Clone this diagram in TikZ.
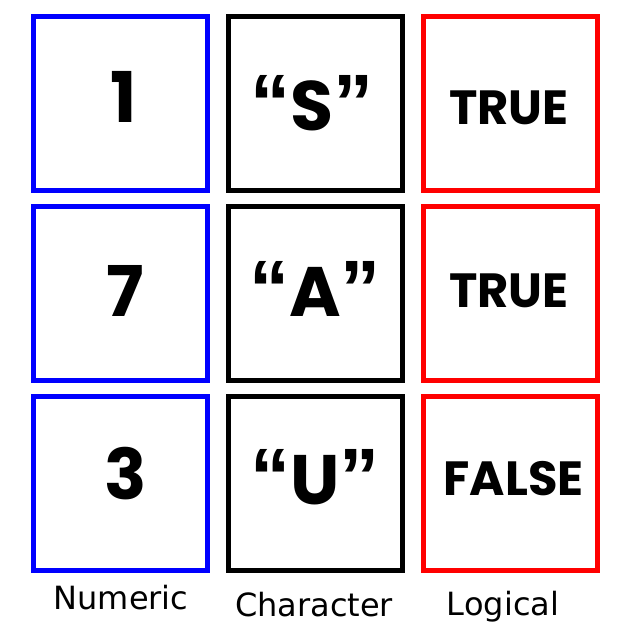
\documentclass[tikz,border=0pt]{standalone}
\usepackage{fontspec}
\newfontfamily\valfont{Poppins}
\newfontfamily\quofont{Liberation Sans}
\newfontfamily\tagfont{DejaVu Sans}
\definecolor{numblue}{HTML}{0000FF}
\definecolor{logred}{HTML}{FF0000}
\newcommand{\quoted}[1]{{\quofont\bfseries\fontsize{80}{80}\selectfont “}#1{\quofont\bfseries\fontsize{80}{80}\selectfont ”}}

\begin{document}
\begin{tikzpicture}[x=1pt, y=-1pt, line width=4.5pt]
\useasboundingbox (0,0) rectangle (640,626);

\tikzset{cell/.style={rectangle, draw, minimum size=174pt, inner sep=0pt},
         bigval/.style={font=\valfont\bfseries\fontsize{70}{70}\selectfont, inner sep=0pt, anchor=base},
         boolval/.style={font=\valfont\bfseries\fontsize{48}{48}\selectfont, inner sep=0pt, anchor=base},
         coltag/.style={font=\tagfont\fontsize{32}{32}\selectfont, inner sep=0pt, anchor=base}}

% numeric column
\tikzstyle{every node}=[cell, draw=numblue]
\draw (120.5,103.5) node (num1) {}
      (120.5,293.5) node (num2) {}
      (120.5,483.5) node (num3) {};

% character column
\tikzstyle{every node}=[cell, draw=black]
\draw (315.5,103.5) node (chr1) {}
      (315.5,293.5) node (chr2) {}
      (315.5,483.5) node (chr3) {};

% logical column
\tikzstyle{every node}=[cell, draw=logred]
\draw (510.5,103.5) node (lgc1) {}
      (510.5,293.5) node (lgc2) {}
      (510.5,483.5) node (lgc3) {};

% values
\tikzstyle{every node}=[bigval]
\draw (124,122)   node (numv1) {1}
      (125,316)   node (numv2) {7}
      (125.5,499) node (numv3) {3}
      (312,130)   node (chrv1) {\quoted{S}}
      (315,316)   node (chrv2) {\quoted{A}}
      (315,504.5) node (chrv3) {\quoted{U}};

\tikzstyle{every node}=[boolval]
\draw (509,124)     node (lgcv1) {TRUE}
      (509,307.3)   node (lgcv2) {TRUE}
      (513.5,495.3) node (lgcv3) {FALSE};

% column names
\tikzstyle{every node}=[coltag]
\draw (121,609.3) node (numtag) {Numeric}
      (314,616)   node (chrtag) {Character}
      (503,615)   node (lgctag) {Logical};

\end{tikzpicture}
\end{document}
